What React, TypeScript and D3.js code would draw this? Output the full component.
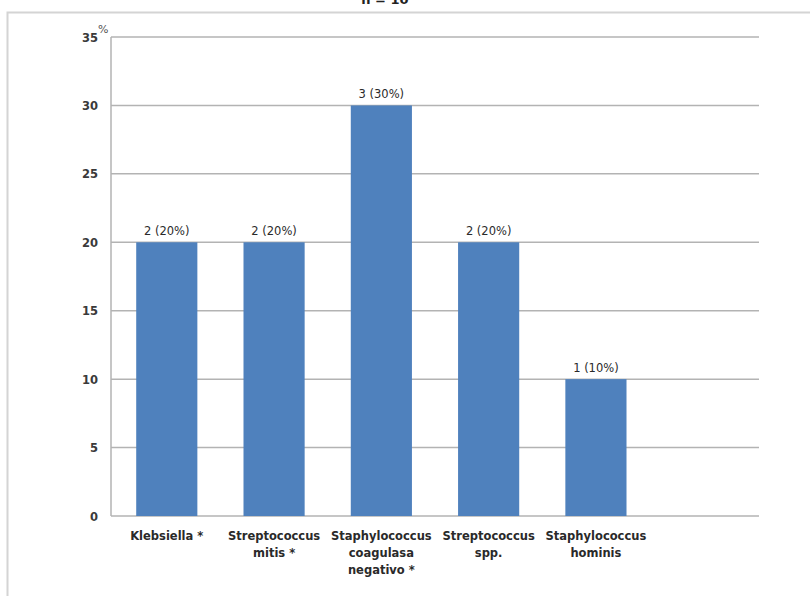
import React from "react";
import * as d3 from "d3";

const categories: string[][] = [
  ["Klebsiella *"],
  ["Streptococcus", "mitis *"],
  ["Staphylococcus", "coagulasa", "negativo *"],
  ["Streptococcus", "spp."],
  ["Staphylococcus", "hominis"],
  [""],
];
const percents: number[] = [20, 20, 30, 20, 10];
const counts: number[] = [2, 2, 3, 2, 1];
const yTicks: number[] = [0, 5, 10, 15, 20, 25, 30, 35];

const W = 810;
const H = 596;
const plot = { left: 111, right: 759, top: 37, bottom: 516 };
const FONT = "'DejaVu Sans', Verdana, sans-serif";

export default function App() {
  const x = d3
    .scaleBand<number>()
    .domain(d3.range(categories.length))
    .range([plot.left, plot.right])
    .paddingInner(0.43)
    .paddingOuter(0.235);
  const y = d3.scaleLinear().domain([0, 35]).range([plot.bottom, plot.top]);

  return (
    <svg
      width={W}
      height={H}
      style={{ position: "absolute", left: 0, top: 0, background: "#fff" }}
    >
      <text x={385} y={4} textAnchor="middle" fontFamily={FONT} fontWeight="bold" fontSize={13} fill="#222">
        n = 10
      </text>
      {/* chart frame */}
      <rect x={7.5} y={12.5} width={W + 20} height={H + 20} fill="none" stroke="#d4d4d4" strokeWidth={2} />

      {/* grid */}
      {yTicks.map((t) => (
        <line key={t} x1={plot.left} x2={plot.right} y1={y(t)} y2={y(t)} stroke="#b3b3b3" strokeWidth={1.5} />
      ))}
      <line x1={plot.left} x2={plot.left} y1={plot.top} y2={plot.bottom} stroke="#b3b3b3" strokeWidth={1.5} />

      {/* y tick labels */}
      {yTicks.map((t) => (
        <text key={t} x={98} y={y(t) + 4.5} textAnchor="end" fontFamily={FONT} fontWeight="bold" fontSize={11.5} fill="#3a3a3a">
          {t}
        </text>
      ))}
      <text x={98} y={y(35) - 4} fontFamily={FONT} fontSize={11} fill="#555">
        %
      </text>

      {/* bars */}
      {percents.map((v, i) => (
        <g key={i}>
          <rect x={x(i)!} y={y(v)} width={x.bandwidth()} height={y(0) - y(v)} fill="#4f81bd" />
          <text
            x={x(i)! + x.bandwidth() / 2}
            y={y(v) - 7}
            textAnchor="middle"
            fontFamily={FONT}
            fontSize={11.5}
            fill="#2a2a2a"
          >
            {`${counts[i]} (${v}%)`}
          </text>
        </g>
      ))}

      {/* category labels */}
      {categories.map((lines, i) => (
        <text
          key={i}
          x={x(i)! + x.bandwidth() / 2}
          y={540}
          textAnchor="middle"
          fontFamily={FONT}
          fontWeight="bold"
          fontSize={11.5}
          fill="#2a2a2a"
        >
          {lines.map((l, j) => (
            <tspan key={j} x={x(i)! + x.bandwidth() / 2} dy={j === 0 ? 0 : 17}>
              {l}
            </tspan>
          ))}
        </text>
      ))}
    </svg>
  );
}
